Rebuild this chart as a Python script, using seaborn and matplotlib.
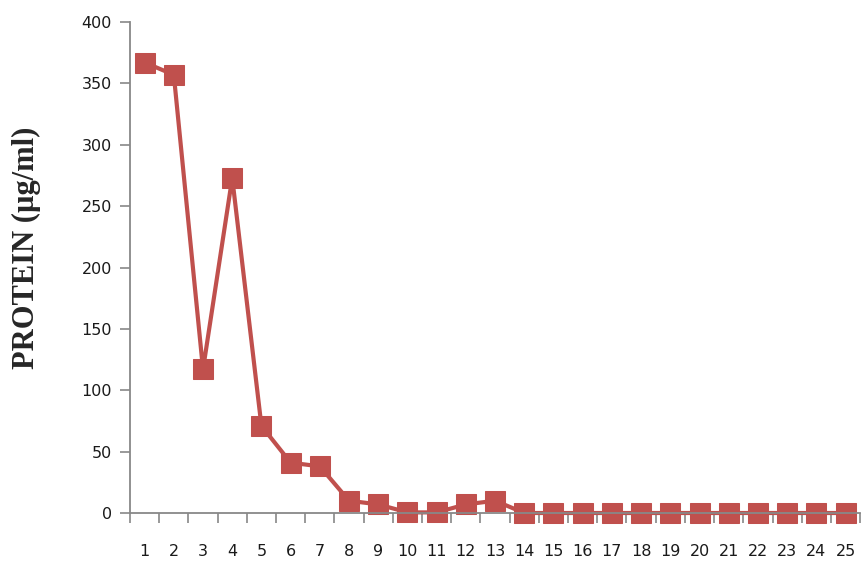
import numpy as np
import pandas as pd
import matplotlib
matplotlib.use("Agg")
import matplotlib.pyplot as plt
import seaborn as sns
from matplotlib.ticker import FixedLocator

# fraction number and protein concentration
fraction = list(range(1, 26))
protein = [367, 357, 117, 273, 71, 41, 38, 10, 7, 0.5, 0.5, 7, 10,
           0, 0, 0, 0, 0, 0, 0, 0, 0, 0, 0, 0]
y_ticks = [0, 50, 100, 150, 200, 250, 300, 350, 400]

df = pd.DataFrame({"fraction": fraction, "protein": protein})

sns.set_style("white")
fig = plt.figure(figsize=(8.61, 5.67), dpi=100)
ax = fig.add_axes([130 / 861, 1 - 513 / 567, 1 - 130 / 861 - 0.001, (513 - 22) / 567])

red = "#C0504D"
sns.lineplot(data=df, x="fraction", y="protein", ax=ax, color=red,
             linewidth=3.0, marker="s", markersize=14, markeredgecolor=red)

ax.set_xlim(0.5, 25.5)
ax.set_ylim(0, 400)
ax.set_yticks(y_ticks)
ax.set_xticks(fraction)
ax.set_xticklabels([str(f) for f in fraction])
ax.xaxis.set_minor_locator(FixedLocator(np.arange(0.5, 26, 1)))
ax.tick_params(axis="x", which="major", bottom=True, length=0, pad=22,
               labelsize=11.5, labelcolor="#1a1a1a")
ax.tick_params(axis="x", which="minor", bottom=True, length=7, width=1.2,
               color="#888888", direction="out")
ax.tick_params(axis="y", left=True, length=7, width=1.2, color="#888888", direction="out",
               labelsize=11.5, labelcolor="#1a1a1a", pad=6)
ax.set_xlabel("")
ax.set_ylabel("PROTEIN (µg/ml)", family=["Liberation Serif", "DejaVu Serif"],
              fontsize=22, fontweight="bold")
ax.yaxis.set_label_coords(-0.122, 0.54)

sns.despine(ax=ax)
for s in ["left", "bottom"]:
    ax.spines[s].set_color("#888888")
    ax.spines[s].set_linewidth(1.3)
for m in ax.lines:
    m.set_clip_on(False)

fig.savefig("out.png", dpi=100)
